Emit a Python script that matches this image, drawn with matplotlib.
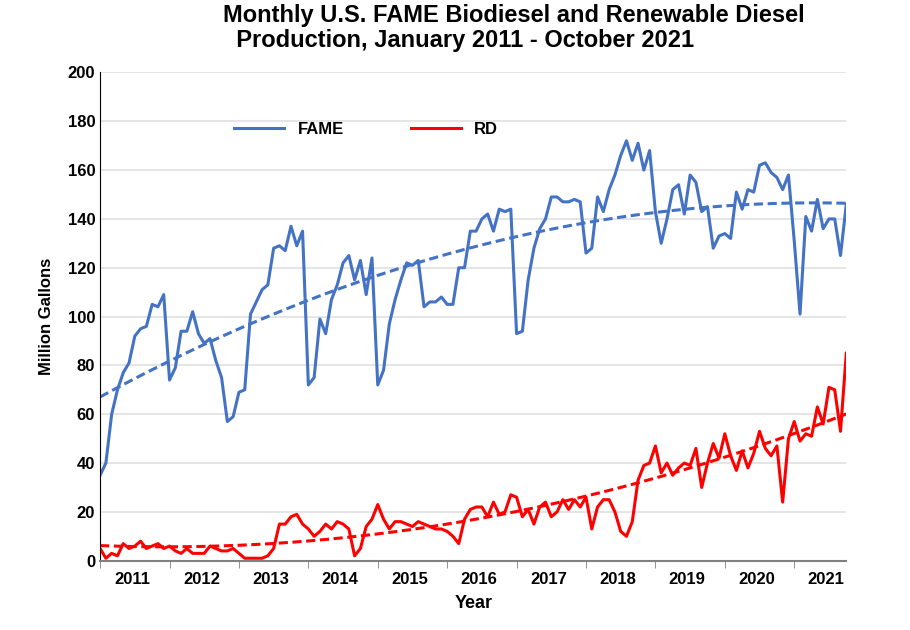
import numpy as np
import matplotlib
matplotlib.use("Agg")
import matplotlib.pyplot as plt
plt.rcParams["font.family"] = ["Liberation Sans", "DejaVu Sans"]

years = ["2011","2012","2013","2014","2015","2016","2017","2018","2019","2020","2021"]
fame = [35,40,60,70,77,81,92,95,96,105,104,109,
        74,79,94,94,102,93,89,91,82,75,57,59,
        69,70,101,106,111,113,128,129,127,137,129,135,
        72,75,99,93,107,113,122,125,115,123,109,124,
        72,78,97,107,115,122,121,123,104,106,106,108,
        105,105,120,120,135,135,140,142,135,144,143,144,
        93,94,115,128,136,140,149,149,147,147,148,147,
        126,128,149,143,152,158,166,172,164,171,160,168,
        143,130,140,152,154,142,158,155,143,145,128,133,
        134,132,151,144,152,151,162,163,159,157,152,158,
        131,101,141,135,148,136,140,140,125,146]
rd = [5,1,3,2,7,5,6,8,5,6,7,5,
      6,4,3,5,3,3,3,6,5,4,4,5,
      3,1,1,1,1,2,5,15,15,18,19,15,
      13,10,12,15,13,16,15,13,2,5,14,17,
      23,17,13,16,16,15,14,16,15,14,13,13,
      12,10,7,17,21,22,22,18,24,19,20,27,
      26,18,21,15,22,24,18,20,25,21,25,22,
      26,13,22,25,25,20,12,10,16,33,39,40,
      47,36,40,35,38,40,39,46,30,40,48,42,
      52,43,37,45,38,44,53,46,43,47,24,50,
      57,49,52,51,63,56,71,70,53,85]

blue = "#4472C4"; red = "#FF0000"
x = np.arange(len(fame))
fig = plt.figure(figsize=(9.1, 6.3), dpi=100)
ax = fig.add_axes([0.11, 0.11, 0.82, 0.775])
ax.plot(x, fame, color=blue, lw=2.2, label="FAME")
ax.plot(x, rd, color=red, lw=2.2, label="RD")
for s, c in [(fame, blue), (rd, red)]:
    p = np.polyfit(x, s, 2)
    ax.plot(x, np.polyval(p, x), color=c, lw=2.2, ls=(0, (3, 1.5)))
ax.set_xlim(0, len(fame) - 1)
ax.set_ylim(0, 200)
ax.set_yticks(range(0, 201, 20))
ax.grid(axis="y", color="#E0E0E0", lw=1.2)
ax.set_axisbelow(True)
ax.set_xticks(np.arange(0, len(fame), 12), minor=True)
ax.set_xticks([i * 12 + 5.5 for i in range(len(years))])
ax.set_xticklabels(years)
ax.tick_params(axis="x", which="major", length=0, pad=8)
ax.tick_params(axis="x", which="minor", length=5, color="#808080")
ax.tick_params(axis="y", length=0)
for lab in ax.get_xticklabels() + ax.get_yticklabels():
    lab.set_fontweight("bold"); lab.set_fontsize(12)
for sp in ["top", "right"]:
    ax.spines[sp].set_visible(False)
ax.spines["bottom"].set_color("#808080"); ax.spines["bottom"].set_linewidth(1.5)
ax.spines["left"].set_color("black")
ax.set_xlabel("Year", fontsize=13, fontweight="bold", labelpad=6)
ax.set_ylabel("Million Gallons", fontsize=12, fontweight="bold", labelpad=10)
ax.legend(handles=ax.lines[:2], loc="upper left", bbox_to_anchor=(0.16, 0.93), ncol=2,
          frameon=False, prop={"weight": "bold", "size": 12}, columnspacing=4, handlelength=3)
fig.text(0.245, 0.955, "Monthly U.S. FAME Biodiesel and Renewable Diesel\n  Production, January 2011 - October 2021",
         ha="left", va="center", fontsize=17, fontweight="bold", linespacing=1.1)
fig.savefig("out.png")
